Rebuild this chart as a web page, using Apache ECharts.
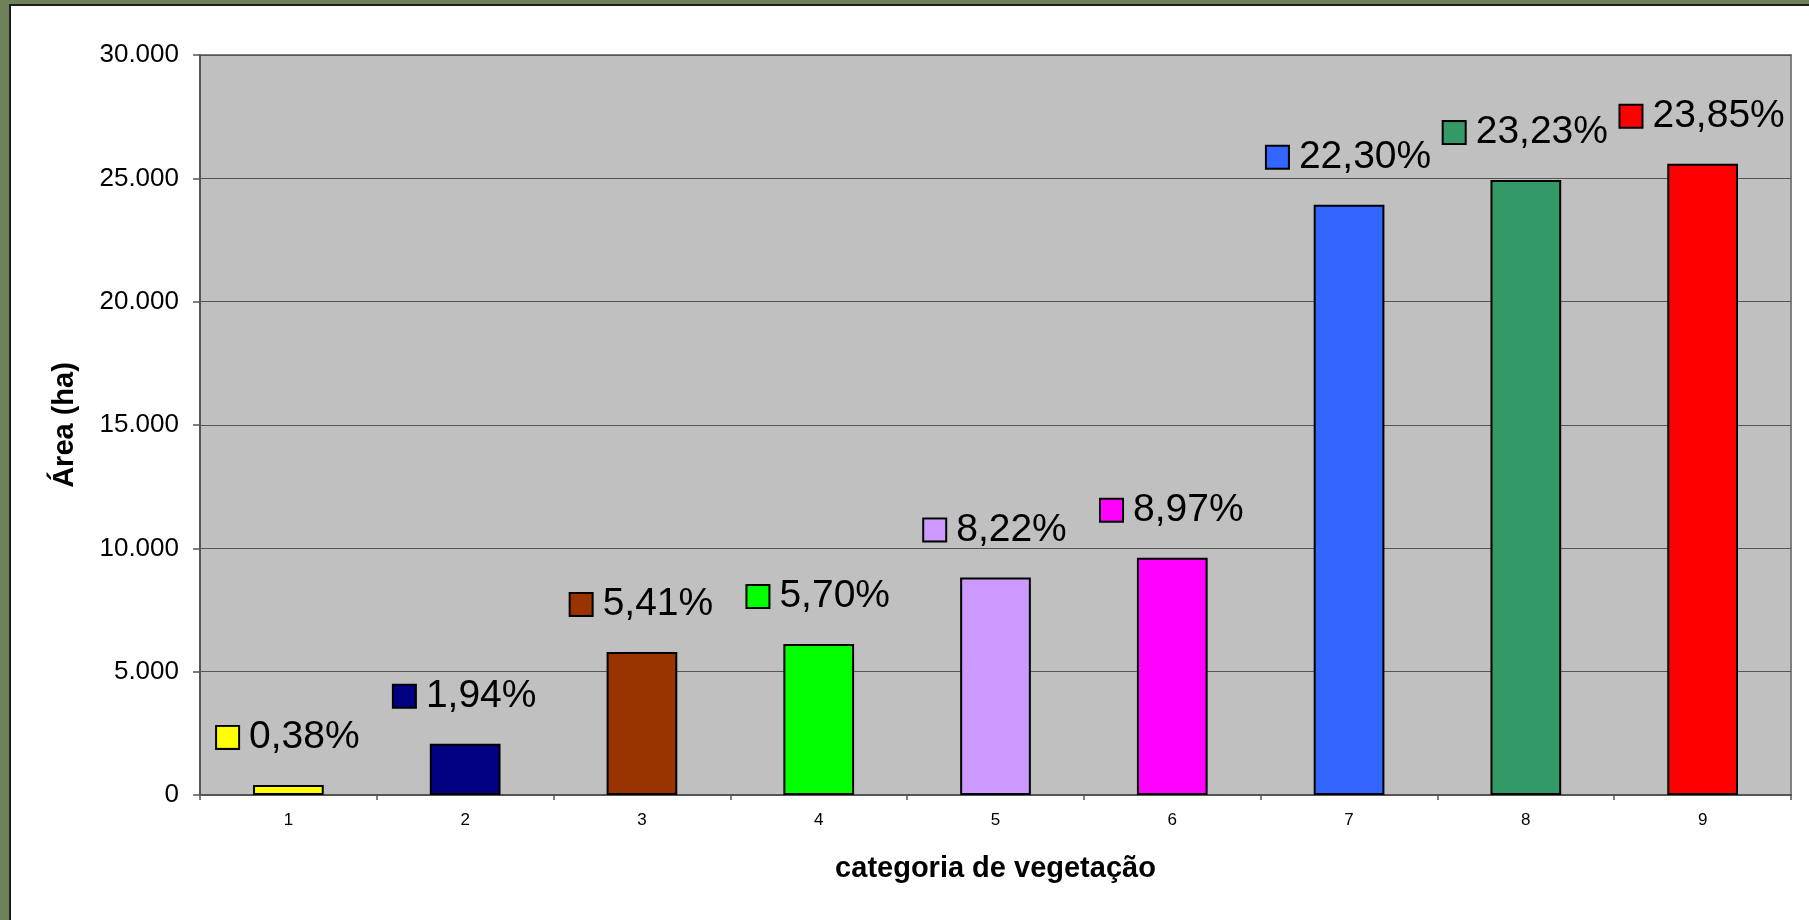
<!DOCTYPE html>
<html>
<head>
<meta charset="utf-8">
<script src="https://cdn.jsdelivr.net/npm/echarts@6/dist/echarts.min.js"></script>
<style>
  html, body { margin: 0; padding: 0; background: #6e8159; }
  #chart { width: 1809px; height: 920px; }
</style>
</head>
<body>
<div id="chart"></div>
<script>
// categorias de vegetação e área (ha)
const categories = ['1', '2', '3', '4', '5', '6', '7', '8', '9'];
const areaHa = [410, 2080, 5800, 6120, 8820, 9620, 23930, 24930, 25590];
const pctLabels = ['0,38%', '1,94%', '5,41%', '5,70%', '8,22%', '8,97%', '22,30%', '23,23%', '23,85%'];
const barColors = ['#FFFF00', '#000080', '#993300', '#00FF00', '#CC99FF', '#FF00FF', '#3366FF', '#339966', '#FF0000'];
const yTicks = [0, 5000, 10000, 15000, 20000, 25000, 30000];

const font = "'Liberation Sans', Arial, sans-serif";

let chart = echarts.init(document.getElementById('chart'));

// cada barra com sua cor e a legenda quadrada no rótulo
let barData = areaHa.map(function (v, i) {
    return {
        value: v,
        itemStyle: { color: barColors[i] },
        label: {
            rich: {
                sq: {
                    width: 21,
                    height: 21,
                    backgroundColor: barColors[i],
                    borderColor: '#000',
                    borderWidth: 2
                },
                t: {
                    fontSize: 39,
                    fontFamily: font,
                    color: '#000',
                    padding: [0, 0, 0, 11]
                }
            }
        }
    };
});

let option = {
    backgroundColor: '#6e8159',
    animation: false,
    graphic: [
        {
            type: 'rect',
            z: -10,
            shape: { x: 10, y: 5, width: 1820, height: 930 },
            style: { fill: '#ffffff', stroke: '#1e1e1e', lineWidth: 2 }
        }
    ],
    grid: {
        left: 200,
        top: 55,
        right: 18,
        bottom: 125,
        show: true,
        backgroundColor: '#C0C0C0',
        borderColor: '#808080',
        borderWidth: 2
    },
    xAxis: {
        type: 'category',
        data: categories,
        name: 'categoria de vegetação',
        nameLocation: 'middle',
        nameGap: 59,
        nameTextStyle: { fontSize: 29, fontWeight: 'bold', fontFamily: font, color: '#000' },
        axisLine: { lineStyle: { color: '#555555', width: 2 } },
        axisTick: { show: true, length: 5, lineStyle: { color: '#555555', width: 1.5 } },
        axisLabel: { fontSize: 17, fontFamily: font, color: '#000', margin: 17 }
    },
    yAxis: {
        type: 'value',
        min: 0,
        max: 30000,
        interval: 5000,
        name: 'Área (ha)',
        nameLocation: 'middle',
        nameGap: 121,
        nameTextStyle: { fontSize: 29, fontWeight: 'bold', fontFamily: font, color: '#000' },
        axisLine: { show: true, lineStyle: { color: '#555555', width: 2 } },
        axisTick: { show: true, length: 7, lineStyle: { color: '#555555', width: 1.5 } },
        axisLabel: {
            fontSize: 26,
            fontFamily: font,
            color: '#000',
            margin: 21,
            formatter: function (v) {
                return yTicks.indexOf(v) >= 0 ? String(v).replace(/\B(?=(\d{3})+(?!\d))/g, '.') : '';
            }
        },
        splitLine: { show: true, lineStyle: { color: '#555555', width: 1.2 } }
    },
    series: [
        {
            type: 'bar',
            data: barData,
            barCategoryGap: '60%',
            itemStyle: { borderColor: '#000', borderWidth: 2 },
            label: {
                show: true,
                position: 'top',
                distance: 28,
                formatter: function (p) {
                    return '{sq|}{t|' + pctLabels[p.dataIndex] + '}';
                }
            }
        }
    ]
};

chart.setOption(option);
</script>
</body>
</html>
